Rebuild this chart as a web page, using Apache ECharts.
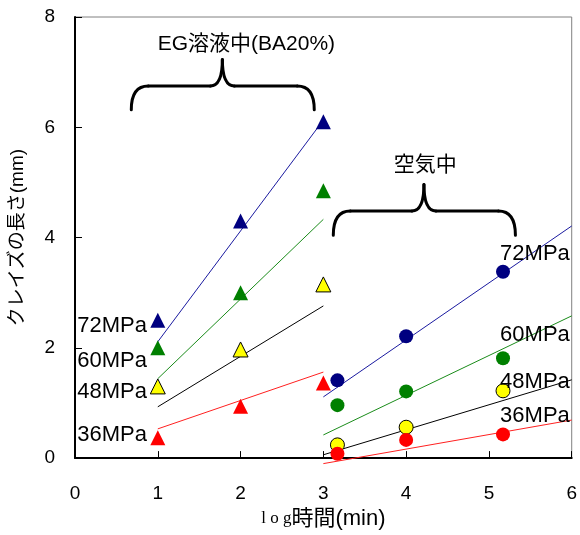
<!DOCTYPE html>
<html>
<head>
<meta charset="utf-8">
<script src="https://cdn.jsdelivr.net/npm/echarts@6/dist/echarts.min.js"></script>
<style>
  html, body { margin: 0; padding: 0; background: #ffffff; }
  #chart { width: 580px; height: 535px; }
</style>
</head>
<body>
<div id="chart"></div>
<script>
// Axis ranges
const xTicks = [0, 1, 2, 3, 4, 5, 6];
const yTicks = [0, 2, 4, 6, 8];

// Applied stress levels
const stressLabels = ['72MPa', '60MPa', '48MPa', '36MPa'];

// Measured craze length (mm) vs log time, in EG solution (BA20%)
const egTimes = [1, 2, 3];
const eg72 = [2.5, 4.3, 6.1];
const eg60 = [2.0, 3.0, 4.85];
const eg48 = [1.3, 1.97, 3.15];
const eg36 = [0.37, 0.94, 1.36];

// Measured craze length (mm) vs log time, in air
const airTimes = [3.17, 4, 5.17];
const air72 = [1.41, 2.21, 3.38];
const air60 = [0.96, 1.21, 1.81];
const air48 = [0.24, 0.56, 1.22];
const air36 = [0.08, 0.33, 0.43];

// Fitted straight lines (end points)
const egFitX = [1, 3];
const egFit72 = [2.11, 6.13];
const egFit60 = [1.44, 4.33];
const egFit48 = [0.93, 2.76];
const egFit36 = [0.53, 1.56];

const airFitX = [3, 6];
const airFit72 = [1.11, 4.21];
const airFit60 = [0.42, 2.58];
const airFit48 = [0.06, 1.42];
const airFit36 = [-0.10, 0.69];

const FONT = '"Liberation Sans", "Noto Sans CJK JP", sans-serif';
const colors = { s72: '#000080', s60: '#008000', s48: '#ffff00', s36: '#ff0000' };
const lineColors = { s72: '#1a1aa0', s60: '#1a8c1a', s48: '#000000', s36: '#ff2020' };

const zip = (xs, ys) => xs.map((x, i) => [x, ys[i]]);

function pointSeries(name, xs, ys, symbol, color, border) {
  return {
    name, type: 'scatter', data: zip(xs, ys), symbol,
    symbolSize: symbol === 'triangle' ? 15 : 14,
    itemStyle: { color, borderColor: border ? '#000' : color, borderWidth: border ? 1 : 0, opacity: 1 },
    z: 5, silent: true
  };
}
function fitSeries(name, xs, ys, color) {
  return {
    name, type: 'line', data: zip(xs, ys), symbol: 'none', clip: false,
    lineStyle: { color, width: 1 }, z: 3, silent: true
  };
}

const series = [
  fitSeries('eg72fit', egFitX, egFit72, lineColors.s72),
  fitSeries('eg60fit', egFitX, egFit60, lineColors.s60),
  fitSeries('eg48fit', egFitX, egFit48, lineColors.s48),
  fitSeries('eg36fit', egFitX, egFit36, lineColors.s36),
  fitSeries('air72fit', airFitX, airFit72, lineColors.s72),
  fitSeries('air60fit', airFitX, airFit60, lineColors.s60),
  fitSeries('air48fit', airFitX, airFit48, lineColors.s48),
  fitSeries('air36fit', airFitX, airFit36, lineColors.s36),
  pointSeries('eg72', egTimes, eg72, 'triangle', colors.s72, false),
  pointSeries('eg60', egTimes, eg60, 'triangle', colors.s60, false),
  pointSeries('eg48', egTimes, eg48, 'triangle', colors.s48, true),
  pointSeries('eg36', egTimes, eg36, 'triangle', colors.s36, false),
  pointSeries('air72', airTimes, air72, 'circle', colors.s72, false),
  pointSeries('air60', airTimes, air60, 'circle', colors.s60, false),
  pointSeries('air48', airTimes, air48, 'circle', colors.s48, true),
  pointSeries('air36', airTimes, air36, 'circle', colors.s36, false)
];

const chart = echarts.init(document.getElementById('chart'), null, { renderer: 'canvas' });

chart.setOption({
  animation: false,
  backgroundColor: '#ffffff',
  grid: {
    left: 73, right: 5, top: 17, bottom: 71.5,
    show: true, borderColor: '#808080', borderWidth: 1, backgroundColor: 'transparent'
  },
  xAxis: {
    type: 'value',
    min: xTicks[0], max: xTicks[xTicks.length - 1], interval: 1,
    name: '{s|l o g}{n|時間(min)}',
    nameLocation: 'middle', nameGap: 46,
    nameTextStyle: {
      rich: {
        s: { fontFamily: '"Liberation Serif", serif', fontSize: 17, color: '#000' },
        n: { fontFamily: FONT, fontSize: 22, color: '#000' }
      }
    },
    axisLine: { show: true, onZero: false, lineStyle: { color: '#000', width: 2 } },
    axisTick: { show: true, inside: true, length: 7, lineStyle: { color: '#000', width: 1 } },
    axisLabel: { fontFamily: FONT, fontSize: 19, color: '#000', margin: 26 },
    splitLine: { show: false }
  },
  yAxis: {
    type: 'value',
    min: yTicks[0], max: yTicks[yTicks.length - 1], interval: 2,
    name: 'クレイズの長さ(mm)',
    nameLocation: 'middle', nameGap: 48,
    nameTextStyle: { fontFamily: FONT, fontSize: 19, color: '#000' },
    axisLine: { show: true, onZero: false, lineStyle: { color: '#000', width: 2 } },
    axisTick: { show: true, inside: true, length: 7, lineStyle: { color: '#000', width: 1 } },
    axisLabel: { fontFamily: FONT, fontSize: 19, color: '#000', margin: 20 },
    splitLine: { show: false }
  },
  series
});

// Annotation placement, in data coordinates
const leftLabelAnchors = [[0.87, 2.39], [0.87, 1.765], [0.87, 1.197], [0.87, 0.42]];
const rightLabelAnchors = [[5.135, 3.71], [5.135, 2.23], [5.135, 1.376], [5.135, 0.76]];
const groupTitles = [
  { text: 'EG溶液中(BA20%)', at: [2.07, 7.5] },
  { text: '空気中', at: [4.23, 5.32] }
];
// brace: [x left, x right, x peak, y ends, y bar, y peak]
const braces = [
  [0.68, 2.89, 1.78, 6.32, 6.75, 7.23],
  [3.12, 5.32, 4.215, 4.04, 4.48, 4.96]
];

const px = (p) => chart.convertToPixel({ gridIndex: 0 }, p);

const braceStyle = { fill: null, stroke: '#000', lineWidth: 3, lineCap: 'round' };

// A curly brace opening downward, built from curves and straight runs
function braceElements(b) {
  const [xl, yE] = px([b[0], b[3]]);
  const [xr] = px([b[1], b[3]]);
  const [xm, yP] = px([b[2], b[5]]);
  const yB = px([b[0], b[4]])[1];
  const r = 17, c = 12;
  const curve = (x1, y1, cx, cy, x2, y2) => ({
    type: 'bezierCurve', silent: true, z: 10,
    shape: { x1, y1, cpx1: cx, cpy1: cy, x2, y2 }, style: braceStyle
  });
  const straight = (x1, y1, x2, y2) => ({
    type: 'line', silent: true, z: 10,
    shape: { x1, y1, x2, y2 }, style: braceStyle
  });
  return [
    curve(xl, yE, xl, yB, xl + r, yB),
    straight(xl + r, yB, xm - c, yB),
    curve(xm - c, yB, xm, yB, xm, yP),
    curve(xm, yP, xm, yB, xm + c, yB),
    straight(xm + c, yB, xr - r, yB),
    curve(xr - r, yB, xr, yB, xr, yE)
  ];
}

const graphic = [];
stressLabels.forEach((t, i) => {
  const [lx, ly] = px(leftLabelAnchors[i]);
  graphic.push({
    type: 'text', x: lx, y: ly, silent: true, z: 10,
    style: { text: t, fontFamily: FONT, fontSize: 22, fill: '#000', align: 'right', verticalAlign: 'middle' }
  });
  const [rx, ry] = px(rightLabelAnchors[i]);
  graphic.push({
    type: 'text', x: rx, y: ry, silent: true, z: 10,
    style: { text: t, fontFamily: FONT, fontSize: 22, fill: '#000', align: 'left', verticalAlign: 'middle' }
  });
});
groupTitles.forEach((g) => {
  const [gx, gy] = px(g.at);
  graphic.push({
    type: 'text', x: gx, y: gy, silent: true, z: 10,
    style: { text: g.text, fontFamily: FONT, fontSize: 21, fill: '#000', align: 'center', verticalAlign: 'middle' }
  });
});
braces.forEach((b) => { graphic.push(...braceElements(b)); });

chart.setOption({ graphic });
</script>
</body>
</html>
